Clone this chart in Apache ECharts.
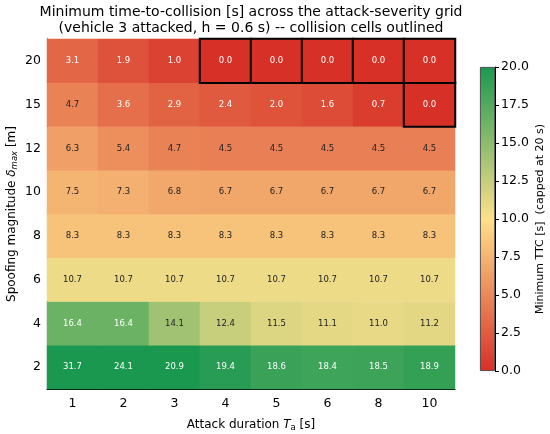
<!DOCTYPE html>
<html>
<head>
<meta charset="utf-8">
<script src="https://cdn.jsdelivr.net/npm/echarts@6/dist/echarts.min.js"></script>
<style>
html,body{margin:0;padding:0;background:#fff;}
#chart{width:550px;height:434px;}
</style>
</head>
<body>
<div id="chart"></div>
<script>
// attack duration T_a [s] (columns)
var taVals = ['1', '2', '3', '4', '5', '6', '8', '10'];
// spoofing magnitude delta_max [m] (rows, bottom to top)
var deltaVals = ['2', '4', '6', '8', '10', '12', '15', '20'];
// minimum TTC [s], one row per delta, same order as deltaVals
var ttcD2 = [31.7, 24.1, 20.9, 19.4, 18.6, 18.4, 18.5, 18.9];
var ttcD4 = [16.4, 16.4, 14.1, 12.4, 11.5, 11.1, 11.0, 11.2];
var ttcD6 = [10.7, 10.7, 10.7, 10.7, 10.7, 10.7, 10.7, 10.7];
var ttcD8 = [8.3, 8.3, 8.3, 8.3, 8.3, 8.3, 8.3, 8.3];
var ttcD10 = [7.5, 7.3, 6.8, 6.7, 6.7, 6.7, 6.7, 6.7];
var ttcD12 = [6.3, 5.4, 4.7, 4.5, 4.5, 4.5, 4.5, 4.5];
var ttcD15 = [4.7, 3.6, 2.9, 2.4, 2.0, 1.6, 0.7, 0.0];
var ttcD20 = [3.1, 1.9, 1.0, 0.0, 0.0, 0.0, 0.0, 0.0];
var ttcRows = [ttcD2, ttcD4, ttcD6, ttcD8, ttcD10, ttcD12, ttcD15, ttcD20];
// colour scale
var capTTC = 20;
var cmapColors = ['#d73027', '#fee08b', '#1a9850'];
var cbTicks = 2.5;

var chart = echarts.init(document.getElementById('chart'));

//把数据整理成热力图需要的格式
var cells = [];
for (var j = 0; j < ttcRows.length; j++) {
	for (var i = 0; i < taVals.length; i++) {
		var v = ttcRows[j][i];
		var capped = Math.min(v, capTTC);
		var light = capped < 4 || capped > 15;
		var item = {
			value: [i, j, capped, v],
			label: { color: light ? '#ffffff' : '#222222' }
		};
		if (v <= 0) {
			item.itemStyle = { borderColor: '#000', borderWidth: 2 };
		}
		cells.push(item);
	}
}

var tickFont = { fontFamily: 'DejaVu Sans', fontSize: 12.5, color: '#000' };
var nameRich = {
	i: { fontFamily: 'DejaVu Sans', fontSize: 12, fontStyle: 'italic', color: '#000' },
	sub: { fontFamily: 'DejaVu Sans', fontSize: 8.5, fontStyle: 'italic', color: '#000', padding: [5, 0, 0, 0] },
	subr: { fontFamily: 'DejaVu Sans', fontSize: 8.5, color: '#000', padding: [5, 0, 0, 0] }
};

var option = {
	animation: false,
	title: {
		text: 'Minimum time-to-collision [s] across the attack-severity grid\n(vehicle 3 attacked, h = 0.6 s) -- collision cells outlined',
		left: 251,
		textAlign: 'center',
		top: 4,
		padding: 0,
		textStyle: { fontFamily: 'DejaVu Sans', fontSize: 14, fontWeight: 'normal', color: '#000', lineHeight: 16.5 }
	},
	grid: [
		{ left: 47, top: 39, width: 408, height: 350, outerBoundsMode: 'none', containLabel: false },
		{ left: 480, top: 67, width: 15, height: 304, outerBoundsMode: 'none', containLabel: false }
	],
	xAxis: [{
		type: 'category',
		gridIndex: 0,
		data: taVals,
		name: 'Attack duration {i|T}{subr|a} [s]',
		nameLocation: 'middle',
		nameGap: 29,
		nameMoveOverlap: false,
		nameTextStyle: { fontFamily: 'DejaVu Sans', fontSize: 12, color: '#000', rich: nameRich },
		axisLine: { lineStyle: { color: '#000', width: 1 } },
		axisTick: { alignWithLabel: true, length: 4, lineStyle: { color: '#000' } },
		axisLabel: tickFont,
		splitLine: { show: false }
	}, {
		type: 'category',
		gridIndex: 1,
		data: ['cb'],
		show: false
	}],
	yAxis: [{
		type: 'category',
		gridIndex: 0,
		data: deltaVals,
		name: 'Spoofing magnitude {i|δ}{sub|max} [m]',
		nameLocation: 'middle',
		nameGap: 28,
		nameMoveOverlap: false,
		nameTextStyle: { fontFamily: 'DejaVu Sans', fontSize: 12, color: '#000', rich: nameRich },
		axisLine: { lineStyle: { color: '#000', width: 1 } },
		axisTick: { alignWithLabel: true, length: 4, lineStyle: { color: '#000' } },
		axisLabel: { fontFamily: 'DejaVu Sans', fontSize: 12.5, color: '#000', margin: 6 },
		splitLine: { show: false }
	}, {
		type: 'value',
		gridIndex: 1,
		position: 'right',
		min: 0,
		max: capTTC,
		interval: cbTicks,
		name: 'Minimum TTC [s]  (capped at 20 s)',
		nameLocation: 'middle',
		nameGap: 40,
		nameMoveOverlap: false,
		nameTextStyle: { fontFamily: 'DejaVu Sans', fontSize: 11, color: '#000' },
		axisLine: { show: true, lineStyle: { color: '#000', width: 1 } },
		axisTick: { show: true, length: 4, lineStyle: { color: '#000' } },
		axisLabel: {
			fontFamily: 'DejaVu Sans', fontSize: 12.5, color: '#000', margin: 6,
			formatter: function (v) { return v.toFixed(1); }
		},
		splitLine: { show: false }
	}],
	visualMap: {
		show: false,
		type: 'continuous',
		seriesIndex: 0,
		dimension: 2,
		min: 0,
		max: capTTC,
		inRange: { color: cmapColors }
	},
	series: [{
		type: 'heatmap',
		xAxisIndex: 0,
		yAxisIndex: 0,
		data: cells,
		label: {
			show: true,
			fontFamily: 'DejaVu Sans',
			fontSize: 8.5,
			formatter: function (p) { return p.data.value[3].toFixed(1); }
		},
		emphasis: { disabled: true }
	}, {
		//色条
		type: 'bar',
		xAxisIndex: 1,
		yAxisIndex: 1,
		data: [capTTC],
		barWidth: '100%',
		itemStyle: {
			borderColor: '#333',
			borderWidth: 0.8,
			color: new echarts.graphic.LinearGradient(0, 0, 0, 1, [
				{ offset: 0, color: cmapColors[2] },
				{ offset: 0.5, color: cmapColors[1] },
				{ offset: 1, color: cmapColors[0] }
			])
		},
		silent: true
	}]
};
chart.setOption(option);
</script>
</body>
</html>
